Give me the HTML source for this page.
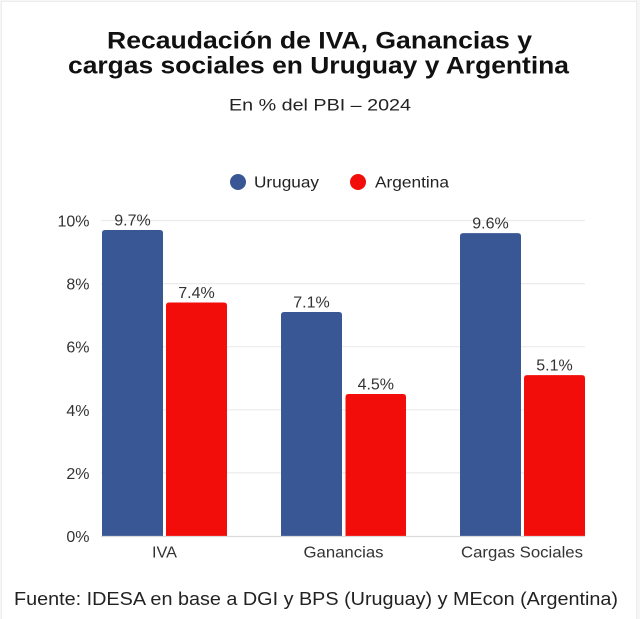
<!DOCTYPE html>
<html>
<head>
<meta charset="utf-8">
<style>
  html, body { margin: 0; padding: 0; background: #ffffff; }
  body { width: 640px; height: 619px; overflow: hidden; }
  svg { display: block; }
  text { font-family: "Liberation Sans", sans-serif; }
</style>
</head>
<body>
<svg width="640" height="619" viewBox="0 0 640 619" xmlns="http://www.w3.org/2000/svg">
  <!-- card background and border -->
  <rect x="0" y="0" width="640" height="619" fill="#f6f6f6"/>
  <rect x="1.5" y="1.5" width="635" height="620" fill="#ffffff" stroke="#ececec" stroke-width="1"/>

  <!-- Title -->
  <text x="319.5" y="48.3" text-anchor="middle" font-size="24" font-weight="bold" fill="#111" textLength="425" lengthAdjust="spacingAndGlyphs">Recaudación de IVA, Ganancias y</text>
  <text x="318.5" y="73.3" text-anchor="middle" font-size="24" font-weight="bold" fill="#111" textLength="501" lengthAdjust="spacingAndGlyphs">cargas sociales en Uruguay y Argentina</text>
  <text x="320" y="110.5" text-anchor="middle" font-size="17" fill="#222" textLength="182" lengthAdjust="spacingAndGlyphs">En % del PBI – 2024</text>

  <!-- Legend -->
  <circle cx="238" cy="182" r="8" fill="#3a5795"/>
  <text x="254" y="187.5" font-size="16" fill="#222" textLength="65" lengthAdjust="spacingAndGlyphs">Uruguay</text>
  <circle cx="358" cy="182" r="8" fill="#f30d0a"/>
  <text x="375" y="187.5" font-size="16" fill="#222" textLength="74" lengthAdjust="spacingAndGlyphs">Argentina</text>

  <!-- Gridlines -->
  <g stroke="#ebebeb" stroke-width="1.2">
    <line x1="101" y1="220.5" x2="585" y2="220.5"/>
    <line x1="101" y1="283.6" x2="585" y2="283.6"/>
    <line x1="101" y1="346.7" x2="585" y2="346.7"/>
    <line x1="101" y1="409.8" x2="585" y2="409.8"/>
    <line x1="101" y1="472.9" x2="585" y2="472.9"/>
  </g>

  <!-- Y tick labels -->
  <g font-size="16" fill="#333" text-anchor="end">
    <text x="89.5" y="226.5">10%</text>
    <text x="89.5" y="289.6">8%</text>
    <text x="89.5" y="352.7">6%</text>
    <text x="89.5" y="415.8">4%</text>
    <text x="89.5" y="478.9">2%</text>
    <text x="89.5" y="542">0%</text>
  </g>

  <!-- Bars -->
  <g>
    <!-- IVA -->
    <path d="M102,536 L102,233 Q102,230 105,230 L160,230 Q163,230 163,233 L163,536 Z" fill="#3a5795"/>
    <path d="M166,536 L166,305.5 Q166,302.5 169,302.5 L224,302.5 Q227,302.5 227,305.5 L227,536 Z" fill="#f30d0a"/>
    <!-- Ganancias -->
    <path d="M281,536 L281,315 Q281,312 284,312 L339,312 Q342,312 342,315 L342,536 Z" fill="#3a5795"/>
    <path d="M345.5,536 L345.5,397 Q345.5,394 348.5,394 L403,394 Q406,394 406,397 L406,536 Z" fill="#f30d0a"/>
    <!-- Cargas Sociales -->
    <path d="M460,536 L460,236.1 Q460,233.1 463,233.1 L518,233.1 Q521,233.1 521,236.1 L521,536 Z" fill="#3a5795"/>
    <path d="M524,536 L524,378.1 Q524,375.1 527,375.1 L582,375.1 Q585,375.1 585,378.1 L585,536 Z" fill="#f30d0a"/>
  </g>

  <!-- baseline -->
  <line x1="101" y1="536.5" x2="585" y2="536.5" stroke="#dcdcdc" stroke-width="1.2"/>

  <!-- Value labels -->
  <g font-size="16" fill="#333" text-anchor="middle">
    <text x="132.5" y="225.5">9.7%</text>
    <text x="196.5" y="298">7.4%</text>
    <text x="311.5" y="307.5">7.1%</text>
    <text x="375.8" y="389.5">4.5%</text>
    <text x="490.5" y="228.6">9.6%</text>
    <text x="554.5" y="370.6">5.1%</text>
  </g>

  <!-- X labels -->
  <g font-size="16" fill="#333" text-anchor="middle">
    <text x="164.5" y="557.5" textLength="25" lengthAdjust="spacingAndGlyphs">IVA</text>
    <text x="343.5" y="557.5" textLength="80" lengthAdjust="spacingAndGlyphs">Ganancias</text>
    <text x="522" y="557.5" textLength="122" lengthAdjust="spacingAndGlyphs">Cargas Sociales</text>
  </g>

  <!-- Source -->
  <text x="14" y="605" font-size="18" fill="#222" textLength="604" lengthAdjust="spacingAndGlyphs">Fuente: IDESA en base a DGI y BPS (Uruguay) y MEcon (Argentina)</text>
</svg>
</body>
</html>
